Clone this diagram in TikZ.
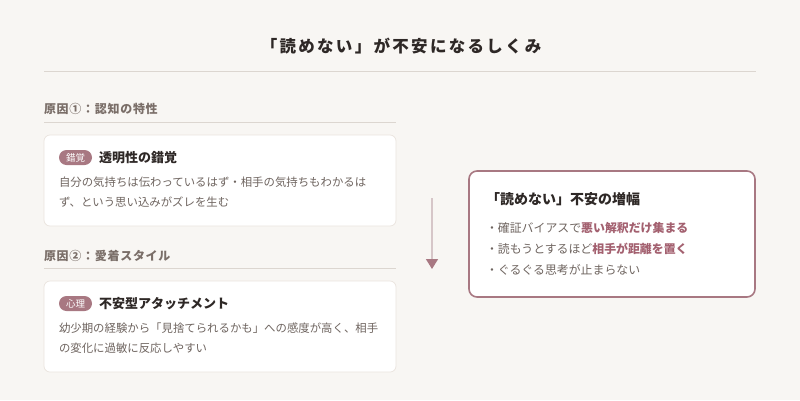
\documentclass[tikz,border=0pt]{standalone}
\usepackage{fontspec}
\setmainfont{Noto Sans CJK JP}
\newfontfamily\titlefont[LetterSpace=14]{Noto Sans CJK JP}
\newfontfamily\headfont[LetterSpace=6]{Noto Sans CJK JP}
\usetikzlibrary{positioning}
\usetikzlibrary{arrows.meta}

\definecolor{bgc}{HTML}{F8F6F3}
\definecolor{rulec}{HTML}{DCD6D0}
\definecolor{cardline}{HTML}{EAE4DE}
\definecolor{headc}{HTML}{7A6E68}
\definecolor{darkc}{HTML}{2E2826}
\definecolor{bodyc}{HTML}{6F6560}
\definecolor{mauve}{HTML}{A87882}
\definecolor{hlc}{HTML}{A3606F}
\definecolor{arrowc}{HTML}{D6C6C8}

\begin{document}
\begin{tikzpicture}
  [
  x=1pt, y=1pt,
  % 余白なし
  every node/.style={inner sep=0, outer sep=0},
  % 見出し
  head/.style={font=\headfont\fontsize{12}{14}\selectfont\bfseries, text=headc, anchor=west},
  % 区切り線
  rule/.style={draw=rulec, line width=0.8pt},
  % カード
  card/.style={rectangle, draw=cardline, fill=white, rounded corners=6pt,
  minimum width=352pt, minimum height=91pt, line width=0.7pt, anchor=north west},
  % ラベル
  badge/.style={rectangle, fill=mauve, text=white, rounded corners=7.5pt,
  minimum width=33pt, minimum height=15pt, font=\fontsize{9.5}{10}\selectfont, anchor=west},
  % カードの題
  ctitle/.style={font=\fontsize{13}{15}\selectfont\bfseries, text=darkc, anchor=west},
  % 本文
  body/.style={font=\fontsize{11.4}{20}\selectfont, text=bodyc, align=left, anchor=north west},
  % 結果の枠
  result/.style={rectangle, draw=mauve, fill=white, rounded corners=8pt,
  minimum width=286pt, minimum height=126pt, line width=1.6pt, anchor=north west},
  % 箇条書き
  item/.style={font=\fontsize{11.9}{14}\selectfont, text=bodyc, anchor=west},
  % 矢印
  arrow/.style={draw=arrowc, line width=1.4pt,
  -{Triangle[width=12pt, length=10pt, color=mauve]}}
  ]
  \fill[bgc] (0,0) rectangle (800,-400);
  \useasboundingbox (0,0) rectangle (800,-400);

  % タイトル
  \node [font=\titlefont\fontsize{16.5}{18}\selectfont\bfseries, text=darkc] (title) at (401,-46)
  {「読めない」が不安になるしくみ};
  \coordinate (tl) at (44,-71);
  \coordinate (tr) at (756,-71);
  \draw [rule] (tl) -- (tr);

  % 原因1
  \node [head] (head1) at (44,-109) {原因①：認知の特性};
  \coordinate (r1l) at (44,-122);
  \coordinate (r1r) at (396,-122);
  \draw [rule] (r1l) -- (r1r);
  \node [card] (card1) at (44,-135) {};
  \node [badge] (badge1) at (59,-157.5) {錯覚};
  \node [ctitle, right=7pt of badge1] (title1) {透明性の錯覚};
  \node [body] (body1) at (59,-177)
  {自分の気持ちは伝わっているはず・相手の気持ちもわかるは\\ず、という思い込みがズレを生む};

  % 原因2
  \node [head] (head2) at (44,-256) {原因②：愛着スタイル};
  \coordinate (r2l) at (44,-268);
  \coordinate (r2r) at (396,-268);
  \draw [rule] (r2l) -- (r2r);
  \node [card] (card2) at (44,-281) {};
  \node [badge] (badge2) at (59,-303.5) {心理};
  \node [ctitle, right=7pt of badge2] (title2) {不安型アタッチメント};
  \node [body] (body2) at (59,-322.5)
  {幼少期の経験から「見捨てられるかも」への感度が高く、相手\\の変化に過敏に反応しやすい};

  % 矢印
  \coordinate (a1) at (432,-198);
  \coordinate (a2) at (432,-269);
  \draw [arrow] (a1) -- (a2);

  % 結果
  \node [result] (res) at (469,-171) {};
  \node [ctitle, font=\fontsize{14}{16}\selectfont\bfseries] (restitle) at (486,-199)
  {「読めない」不安の増幅};
  \node [item] (item1) at (486,-228)
  {・確証バイアスで{\bfseries\color{hlc}悪い解釈だけ集まる}};
  \node [item, below=21pt of item1.west, anchor=west] (item2)
  {・読もうとするほど{\bfseries\color{hlc}相手が距離を置く}};
  \node [item, below=21pt of item2.west, anchor=west] (item3)
  {・ぐるぐる思考が止まらない};
\end{tikzpicture}
\end{document}
